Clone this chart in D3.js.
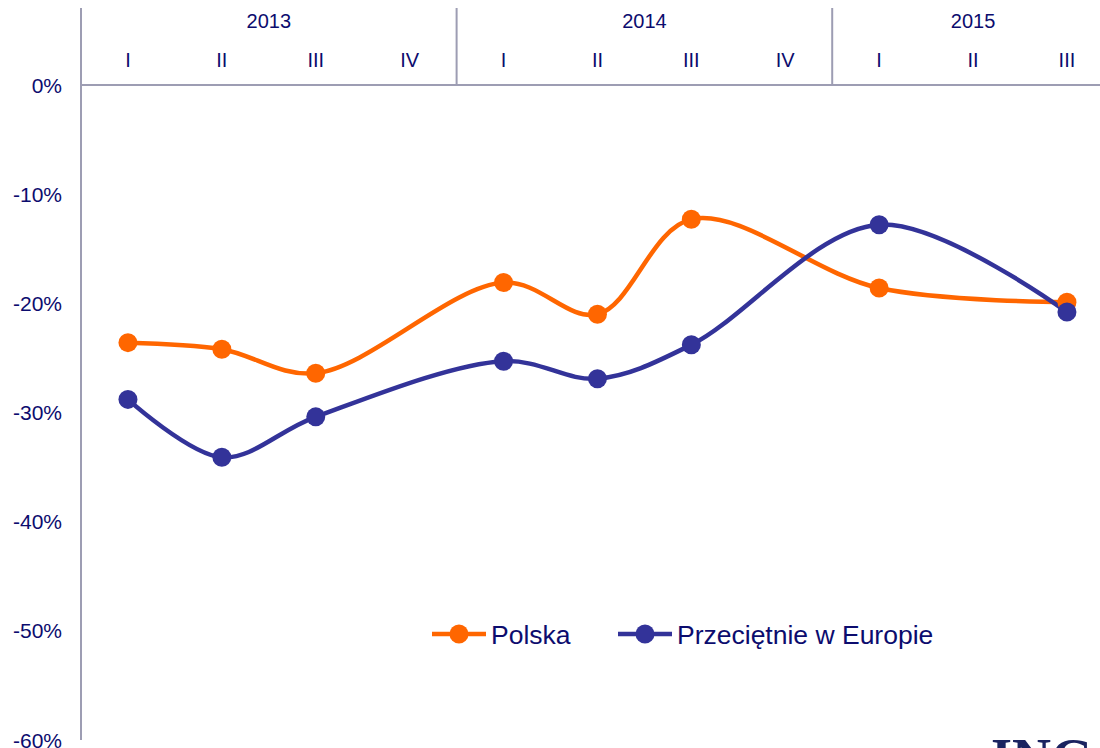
<!DOCTYPE html>
<html>
<head>
<meta charset="utf-8">
<script src="https://cdn.jsdelivr.net/npm/d3@7"></script>
<style>
  body { margin: 0; background: #fff; }
  text { font-family: "Liberation Sans", Arial, sans-serif; fill: #0c0c6e; }
</style>
</head>
<body>
<script>
// quarters and years
var quarters = ["I", "II", "III", "IV", "I", "II", "III", "IV", "I", "II", "III"];
var years = ["2013", "2014", "2015"];
var yearSpan = [4, 4, 3];

// values in %, null = no point in that quarter
var polska = [-23.6, -24.2, -26.4, null, -18.1, -21.0, -12.3, null, -18.6, null, -19.9];
var europa = [-28.8, -34.1, -30.4, null, -25.3, -26.9, -23.8, null, -12.8, null, -20.8];

var yTicks = [0, -10, -20, -30, -40, -50, -60];

var W = 1100, H = 748;
var plotLeft = 81, plotTop = 85, plotBottom = 740, band = 93.9;

var svg = d3.select("body").append("svg")
  .attr("width", W)
  .attr("height", H);

var x = d3.scaleBand()
  .domain(d3.range(quarters.length))
  .range([plotLeft, plotLeft + band * quarters.length]);

var y = d3.scaleLinear()
  .domain([-60, 0])
  .range([plotBottom, plotTop]);

var axisColor = "#9d9db3";

// y axis line (runs up into the header)
svg.append("line")
  .attr("x1", plotLeft).attr("x2", plotLeft)
  .attr("y1", 8).attr("y2", plotBottom)
  .style("stroke", axisColor).style("stroke-width", 2);

// 0% line
svg.append("line")
  .attr("x1", plotLeft).attr("x2", W)
  .attr("y1", y(0)).attr("y2", y(0))
  .style("stroke", axisColor).style("stroke-width", 2);

// y tick labels
svg.selectAll(".ytick")
  .data(yTicks)
  .enter()
  .append("text")
  .attr("class", "ytick")
  .attr("x", 62)
  .attr("y", function(d) { return y(d); })
  .attr("dy", "0.36em")
  .attr("text-anchor", "end")
  .style("font-size", "21px")
  .text(function(d) { return d + "%"; });

// year separators and labels
var start = 0;
years.forEach(function(yr, i) {
  var x0 = x(start);
  var x1 = x(start + yearSpan[i] - 1) + band;
  if (i > 0) {
    svg.append("line")
      .attr("x1", x0).attr("x2", x0)
      .attr("y1", 8).attr("y2", y(0))
      .style("stroke", axisColor).style("stroke-width", 2);
  }
  svg.append("text")
    .attr("x", (x0 + x1) / 2)
    .attr("y", 28)
    .attr("text-anchor", "middle")
    .style("font-size", "20px")
    .text(yr);
  start += yearSpan[i];
});

// quarter labels
svg.selectAll(".qtick")
  .data(quarters)
  .enter()
  .append("text")
  .attr("class", "qtick")
  .attr("x", function(d, i) { return x(i) + band / 2; })
  .attr("y", 67)
  .attr("text-anchor", "middle")
  .style("font-size", "20px")
  .text(function(d) { return d; });

// series
var series = [
  { name: "Polska", values: polska, color: "#ff6600" },
  { name: "Przeciętnie w Europie", values: europa, color: "#333399" }
];

var line = d3.line()
  .x(function(d) { return x(d.i) + band / 2; })
  .y(function(d) { return y(d.v); })
  .curve(d3.curveCatmullRom.alpha(0.5));

series.forEach(function(s) {
  var pts = [];
  s.values.forEach(function(v, i) { if (v !== null) pts.push({ i: i, v: v }); });
  s.pts = pts;
});

series.forEach(function(s) {
  svg.append("path")
    .datum(s.pts)
    .attr("d", line)
    .style("fill", "none")
    .style("stroke", s.color)
    .style("stroke-width", 4.5);
});

series.forEach(function(s) {
  svg.selectAll(null)
    .data(s.pts)
    .enter()
    .append("circle")
    .attr("cx", function(d) { return x(d.i) + band / 2; })
    .attr("cy", function(d) { return y(d.v); })
    .attr("r", 9.5)
    .style("fill", s.color);
});

// legend
var legX = [432, 618];
series.forEach(function(s, i) {
  var g = svg.append("g").attr("transform", "translate(" + legX[i] + ",634)");
  g.append("line")
    .attr("x1", 0).attr("x2", 54)
    .style("stroke", s.color).style("stroke-width", 4.5);
  g.append("circle")
    .attr("cx", 27).attr("r", 9.5)
    .style("fill", s.color);
  g.append("text")
    .attr("x", 59)
    .attr("dy", "0.36em")
    .style("font-size", "26.5px")
    .text(s.name);
});

// logo, cut off at the bottom edge
svg.append("text")
  .attr("x", 991)
  .attr("y", 776)
  .style("font-family", "'Liberation Serif', serif")
  .style("font-weight", "bold")
  .style("font-size", "54px")
  .style("fill", "#1a2360")
  .text("ING");
</script>
</body>
</html>
